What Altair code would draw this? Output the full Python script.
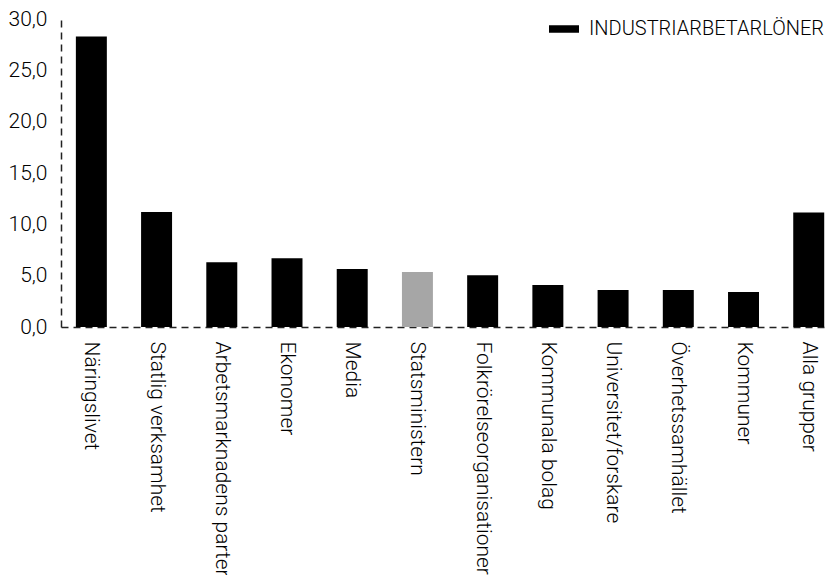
import altair as alt
import pandas as pd

kategorier = ["Näringslivet", "Statlig verksamhet", "Arbetsmarknadens parter", "Ekonomer",
              "Media", "Statsministern", "Folkrörelseorganisationer", "Kommunala bolag",
              "Universitet/forskare", "Överhetssamhället", "Kommuner", "Alla grupper"]
varden = [28.3, 11.2, 6.3, 6.7, 5.65, 5.35, 5.05, 4.1, 3.6, 3.6, 3.4, 11.15]
serie = "INDUSTRIARBETARLÖNER"
markerad = "Statsministern"

df = pd.DataFrame({"kategori": kategorier, "varde": varden, "serie": [serie] * len(kategorier)})

FONT = "Roboto"
FS = 21

chart = alt.Chart(df).mark_bar().encode(
    x=alt.X("kategori:N", sort=kategorier, title=None,
            scale=alt.Scale(paddingInner=0.525, paddingOuter=0.12, align=0.95),
            axis=alt.Axis(labelAngle=90, labelAlign="left", labelBaseline="middle",
                          labelFontSize=FS, labelColor="black", labelPadding=14,
                          ticks=False, domainDash=[7, 5], domainColor="#222222",
                          domainWidth=1.5, labelFont=FONT, labelFontWeight=300,
                          labelLimit=0)),
    y=alt.Y("varde:Q", title=None,
            scale=alt.Scale(domain=[0, 30], nice=False),
            axis=alt.Axis(values=[0, 5, 10, 15, 20, 25, 30], grid=False, ticks=False,
                          labelExpr="replace(format(datum.value, '.1f'), '.', ',')",
                          labelFontSize=FS, labelColor="black", labelPadding=14,
                          domainDash=[7, 5], domainColor="#222222", domainWidth=1.5,
                          labelFont=FONT, labelFontWeight=300)),
    color=alt.condition(
        alt.datum.kategori == markerad,
        alt.value("#a6a6a6"),
        alt.Color("serie:N", scale=alt.Scale(range=["black"]),
                  legend=alt.Legend(title=None, orient="none", legendX=488, legendY=-5,
                                    symbolType="M-1,-0.25H1V0.25H-1Z", symbolSize=900,
                                    symbolStrokeWidth=0, labelFontSize=20,
                                    labelColor="black", labelFont=FONT, labelFontWeight=300,
                                    labelOffset=10, labelLimit=0)),
    ),
).properties(
    width=764, height=308,
    padding={"left": 0, "top": 0, "right": 0, "bottom": 0},
).configure(font=FONT, view=alt.ViewConfig(stroke=None))

chart.save("out.html", embed_options={"renderer": "svg", "actions": False})
